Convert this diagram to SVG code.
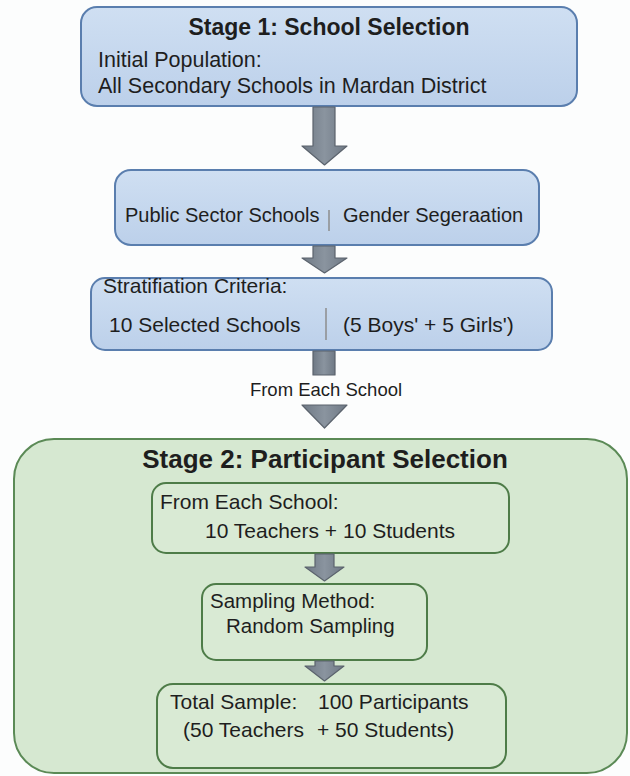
<svg xmlns="http://www.w3.org/2000/svg" width="630" height="776" viewBox="0 0 630 776">
<defs>
<linearGradient id="gBlue" x1="0" y1="0" x2="0" y2="1">
<stop offset="0" stop-color="#cfdff2"/>
<stop offset="1" stop-color="#bcd0ea"/>
</linearGradient>
<linearGradient id="gArrow" x1="0" y1="0" x2="1" y2="0">
<stop offset="0" stop-color="#6f7985"/>
<stop offset="0.5" stop-color="#8a949f"/>
<stop offset="1" stop-color="#6f7985"/>
</linearGradient>
</defs>
<style>
.blue{fill:url(#gBlue);stroke:#5a7eae;stroke-width:2}
.outer{fill:#d6e8d1;stroke:#5b8a56;stroke-width:2}
.inner{fill:#d9ead4;stroke:#4e7c48;stroke-width:2}
.arr{fill:url(#gArrow);stroke:#5b636d;stroke-width:1.2;stroke-linejoin:round}
.sep{stroke:#8c8c8c;stroke-width:1.5}
text{font-family:"Liberation Sans",Arial,sans-serif;fill:#1e1e1e}
.b{font-weight:bold}
</style>
<rect width="630" height="776" fill="#fcfdfd"/>
<g id="stage1">
<rect class="blue" x="81" y="7" width="496" height="99" rx="16"/>
<text class="b" x="329" y="35" font-size="23" text-anchor="middle">Stage 1: School Selection</text>
<text x="98" y="67" font-size="21.5">Initial Population:</text>
<text x="98" y="93" font-size="21.5">All Secondary Schools in Mardan District</text>
</g>
<g id="criteria">
<rect class="blue" x="115" y="170" width="424" height="75" rx="16"/>
<text x="125" y="222" font-size="20">Public Sector Schools</text>
<line class="sep" x1="329" y1="210" x2="329" y2="231"/>
<text x="343" y="222" font-size="20">Gender Segeraation</text>
</g>
<g id="stratification">
<rect class="blue" x="91" y="278" width="461" height="72" rx="14"/>
<text x="103" y="293" font-size="21">Stratifiation Criteria:</text>
<text x="109" y="332" font-size="21">10 Selected Schools</text>
<line class="sep" x1="326" y1="308" x2="326" y2="340"/>
<text x="343" y="332" font-size="21">(5 Boys' + 5 Girls')</text>
</g>
<g id="stage2">
<rect class="outer" x="14" y="439" width="613" height="334" rx="40"/>
<text class="b" x="325" y="468" font-size="26" text-anchor="middle">Stage 2: Participant Selection</text>
</g>
<g id="per-school">
<rect class="inner" x="152" y="483" width="357" height="70" rx="14"/>
<text x="160" y="509" font-size="21">From Each School:</text>
<text x="205" y="538" font-size="21">10 Teachers + 10 Students</text>
</g>
<g id="sampling">
<rect class="inner" x="202" y="584" width="225" height="76" rx="14"/>
<text x="210" y="608" font-size="20.5">Sampling Method:</text>
<text x="226" y="633" font-size="20.5">Random Sampling</text>
</g>
<g id="total">
<rect class="inner" x="157" y="684" width="349" height="84" rx="16"/>
<text x="170" y="709" font-size="21">Total Sample: <tspan x="318">100 Participants</tspan></text>
<text x="183" y="737" font-size="21">(50 Teachers <tspan x="317">+ 50 Students)</tspan></text>
</g>
<g id="connectors">
<polygon class="arr" points="313,107 335,107 335,146 347,146 324.5,165 302,146 313,146"/>
<polygon class="arr" points="313,246 335,246 335,258 347,258 324.5,273 302,258 313,258"/>
<polygon class="arr" points="313,351 335,351 335,375 313,375"/>
<polygon class="arr" points="302,405 347,405 324.5,428"/>
<polygon class="arr" points="315,554 334,554 334,567 344,567 324.5,581 305,567 315,567"/>
<polygon class="arr" points="315,661 334,661 334,666 344,666 324.5,681 305,666 315,666"/>
<text x="326" y="396" font-size="18.5" text-anchor="middle">From Each School</text>
</g>
</svg>
